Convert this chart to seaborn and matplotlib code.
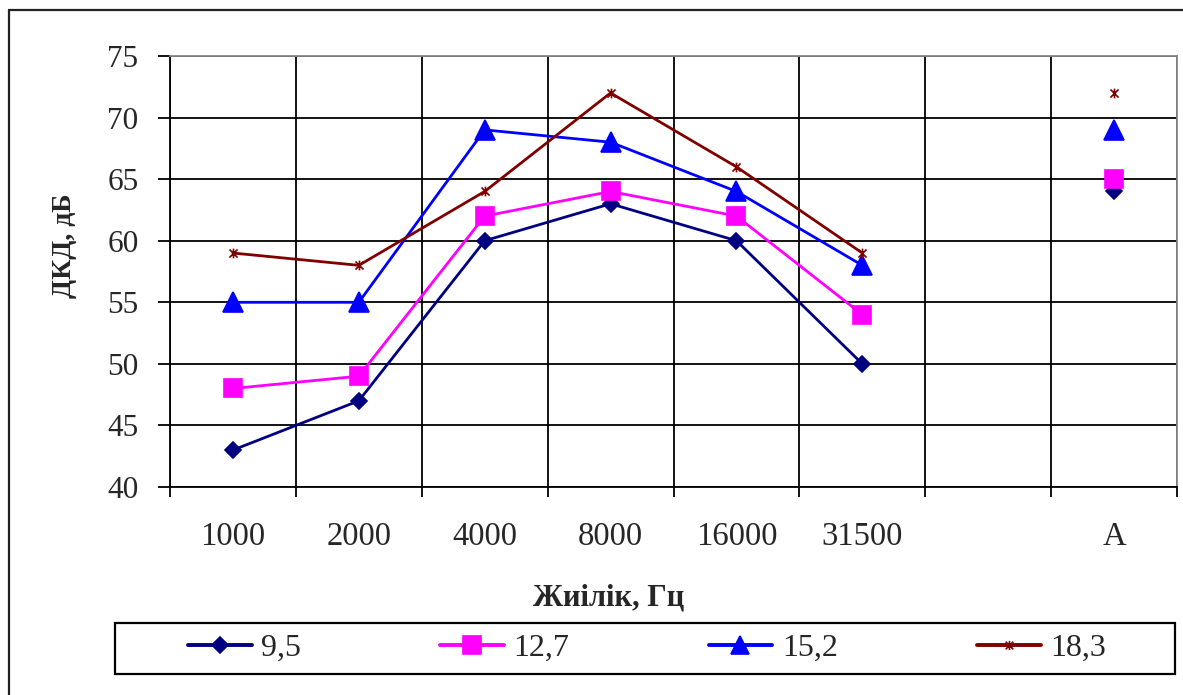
import numpy as np
import pandas as pd
import matplotlib
matplotlib.use("Agg")
import matplotlib.pyplot as plt
from matplotlib.lines import Line2D
from matplotlib.patches import Rectangle
from matplotlib.path import Path
import seaborn as sns

# ---- data ----
categories = ["1000", "2000", "4000", "8000", "16000", "31500", "", "A"]
series_names = ["9,5", "12,7", "15,2", "18,3"]
s_9_5 = [43, 47, 60, 63, 60, 50, np.nan, 64]
s_12_7 = [48, 49, 62, 64, 62, 54, np.nan, 65]
s_15_2 = [55, 55, 69, 68, 64, 58, np.nan, 69]
s_18_3 = [59, 58, 64, 72, 66, 59, np.nan, 72]
y_ticks = [40, 45, 50, 55, 60, 65, 70, 75]

series_values = [s_9_5, s_12_7, s_15_2, s_18_3]
colors = ["#000080", "#FF00FF", "#0000FF", "#800000"]

star = Path([(-1, -1), (1, 1), (-1, 1), (1, -1), (0, -1.2), (0, 1.2)],
            [Path.MOVETO, Path.LINETO, Path.MOVETO, Path.LINETO, Path.MOVETO, Path.LINETO])
markers = ["D", "s", "^", star]
msizes = [8.5, 13, 14, 7]

rows = []
for name, vals in zip(series_names, series_values):
    for i, v in enumerate(vals):
        rows.append({"series": name, "pos": i, "cat": categories[i], "value": v})
df = pd.DataFrame(rows)

sns.set_style("white")
plt.rcParams["font.family"] = ["Liberation Serif", "DejaVu Serif"]

W, H = 1183, 695
fig = plt.figure(figsize=(W / 100, H / 100), dpi=100)
ax = fig.add_axes([170 / W, 1 - 487 / H, 1007 / W, 431 / H])

handles = []
for name, col, mk, ms in zip(series_names, colors, markers, msizes):
    sub = df[(df["series"] == name)].dropna()
    main = sub[sub["pos"] <= 5]
    extra = sub[sub["pos"] > 5]
    for part in (main, extra):
        sns.lineplot(data=part, x="pos", y="value", ax=ax, color=col, marker=mk,
                     markersize=ms, markeredgecolor=col, markerfacecolor=col,
                     markeredgewidth=1.2, linewidth=2.0, estimator=None, sort=False,
                     legend=False)
    handles.append(Line2D([], [], color=col, marker=mk, markersize=ms * 0.95,
                          markeredgecolor=col, markerfacecolor=col,
                          markeredgewidth=1.2, linewidth=2.8, label=name))

ax.set_xlim(-0.5, len(categories) - 0.5)
ax.set_ylim(y_ticks[0], y_ticks[-1])
ax.set_yticks(y_ticks)
ax.set_yticklabels([str(t) for t in y_ticks])

ax.set_xticks(np.arange(-0.5, len(categories), 1.0))
ax.set_xticklabels([])
ax.set_xticks(np.arange(len(categories)), minor=True)
ax.set_xticklabels(categories, minor=True)

ax.grid(True, which="major", color="black", linewidth=1.3)
ax.set_axisbelow(True)
for sp in ax.spines.values():
    sp.set_color("black")
    sp.set_linewidth(1.3)
ax.spines["right"].set_color("#888888")
ax.spines["top"].set_color("#888888")

ax.tick_params(axis="y", which="major", direction="out", length=8.6, width=1.3,
               color="black", pad=14, labelsize=22.5, left=True)
ax.tick_params(axis="x", which="major", direction="out", length=7, width=1.3,
               color="black", bottom=True)
ax.tick_params(axis="x", which="minor", length=0, pad=25, labelsize=23.5, bottom=True)

ax.set_xlabel("Жиілік, Гц", fontsize=22, fontweight="bold", va="top")
ax.xaxis.set_label_coords(0.436, -0.225)
ax.set_ylabel("ДКД, дБ", fontsize=20, fontweight="bold")
ax.yaxis.set_label_coords(-0.092, 0.56)

leg = fig.legend(handles=handles, loc="center",
                 bbox_to_anchor=(647 / W, 1 - 648.5 / H),
                 ncol=4, fontsize=23, frameon=False,
                 handlelength=2.0, handletextpad=0.3, columnspacing=4.35,
                 borderaxespad=0, borderpad=0)

# legend frame
fig.add_artist(Rectangle((115 / W, 1 - 674 / H), (1175 - 115) / W, (674 - 623) / H,
                         transform=fig.transFigure, fill=False, edgecolor="black",
                         linewidth=1.6))

# outer chart-area frame
fig.add_artist(Line2D([9 / W, 9 / W], [0, 1 - 10 / H], transform=fig.transFigure,
                      color="#222222", linewidth=1.6))
fig.add_artist(Line2D([9 / W, 1.0], [1 - 10 / H, 1 - 10 / H], transform=fig.transFigure,
                      color="#222222", linewidth=1.6))

fig.savefig("out.png", dpi=100)
